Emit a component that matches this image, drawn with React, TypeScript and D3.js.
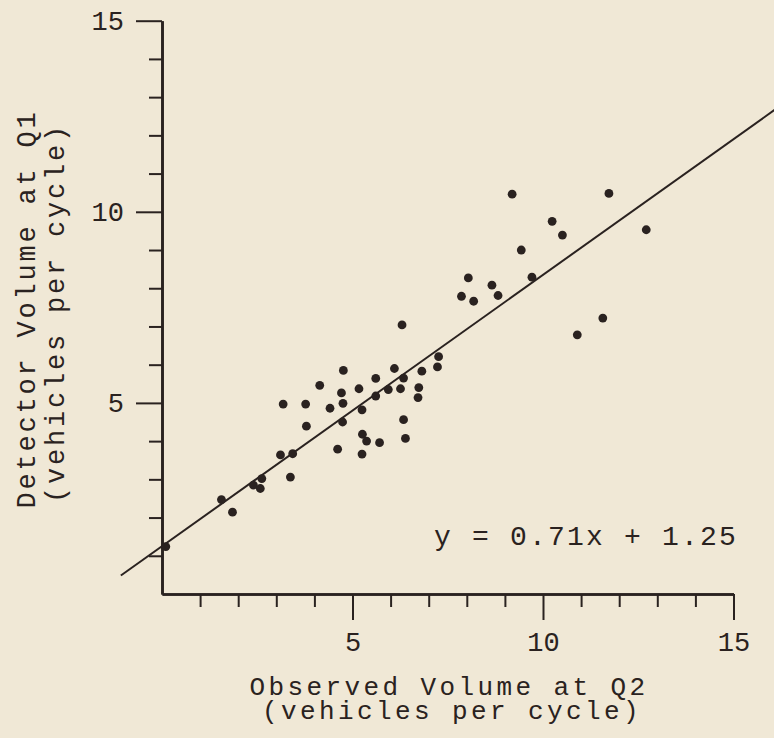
import React, { useEffect, useRef } from "react";
import * as d3 from "d3";

// Observed volume at Q2 (x) vs detector volume at Q1 (y), vehicles per cycle
const observedQ2 = [
  0.10, 1.56, 1.85, 2.40, 2.58, 2.62, 3.11, 3.43, 3.37, 3.18, 3.77, 3.79, 4.14,
  4.41, 4.61, 4.71, 4.76, 4.75, 4.74, 5.17, 5.25, 5.26, 5.37, 5.25, 5.61, 5.61,
  5.71, 5.94, 6.10, 6.26, 6.34, 6.30, 6.34, 6.39, 6.74, 6.72, 6.82, 7.23, 7.26,
  7.86, 8.04, 8.18, 8.66, 8.82, 9.19, 9.43, 9.71, 10.24, 10.51, 10.90, 11.57,
  11.73, 12.71,
];
const detectorQ1 = [
  1.24, 2.47, 2.14, 2.85, 2.76, 3.02, 3.64, 3.67, 3.06, 4.97, 4.97, 4.39, 5.46,
  4.86, 3.79, 5.26, 5.85, 4.99, 4.50, 5.37, 4.82, 4.18, 4.00, 3.66, 5.64, 5.18,
  3.96, 5.35, 5.90, 5.37, 5.65, 7.04, 4.56, 4.07, 5.40, 5.14, 5.83, 5.94, 6.21,
  7.79, 8.27, 7.66, 8.08, 7.81, 10.46, 9.00, 8.29, 9.75, 9.39, 6.78, 7.22,
  10.48, 9.53,
];

const slope = 0.71;
const intercept = 1.25;
const fitRange = [-1.08, 16.3];

const majorTicks = [5, 10, 15];
const minorTicks = d3.range(1, 15).filter(v => v % 5 !== 0);

const xTitle = ["Observed Volume at Q2", "(vehicles per cycle)"];
const yTitle = ["Detector Volume at Q1", "(vehicles per cycle)"];
const equation = "y = 0.71x + 1.25";

export default function App() {
  const svgRef = useRef(null);

  useEffect(() => {
    const W = 774, H = 738;
    const ink = "#2a2220";
    const font = "'Liberation Mono', 'Courier New', monospace";

    const svg = d3.select(svgRef.current)
      .html("")
      .attr("width", W)
      .attr("height", H);

    svg.append("rect").attr("width", W).attr("height", H).attr("fill", "#f0e8d6");

    const x = d3.scaleLinear().domain([0, 15]).range([162, 733.5]);
    const y = d3.scaleLinear().domain([0, 15]).range([594, 20.7]);

    // minor ticks (short)
    svg.append("g")
      .attr("transform", `translate(0,${y(0)})`)
      .call(d3.axisBottom(x).tickValues(minorTicks).tickSize(13).tickSizeOuter(0).tickFormat(() => ""));
    svg.append("g")
      .attr("transform", `translate(${x(0)},0)`)
      .call(d3.axisLeft(y).tickValues(minorTicks).tickSize(13).tickSizeOuter(0).tickFormat(() => ""));

    // major ticks with labels
    const xAxis = svg.append("g")
      .attr("transform", `translate(0,${y(0)})`)
      .call(d3.axisBottom(x).tickValues(majorTicks).tickSize(26).tickSizeOuter(0).tickPadding(12));
    const yAxis = svg.append("g")
      .attr("transform", `translate(${x(0)},0)`)
      .call(d3.axisLeft(y).tickValues(majorTicks).tickSize(26).tickSizeOuter(0).tickPadding(12));

    svg.selectAll(".domain").attr("stroke", ink).attr("stroke-width", 2.6);
    svg.selectAll(".tick line").attr("stroke", ink).attr("stroke-width", 2);
    [xAxis, yAxis].forEach(a =>
      a.selectAll("text")
        .attr("fill", ink)
        .style("font-family", font)
        .style("font-size", "27px")
    );

    // regression line
    const line = d3.line()
      .x(d => x(d))
      .y(d => y(slope * d + intercept));
    svg.append("path")
      .datum(fitRange)
      .attr("fill", "none")
      .attr("stroke", ink)
      .attr("stroke-width", 2)
      .attr("d", line);

    // points
    svg.append("g")
      .selectAll("circle")
      .data(observedQ2.map((v, i) => [v, detectorQ1[i]]))
      .enter()
      .append("circle")
      .attr("cx", d => x(d[0]))
      .attr("cy", d => y(d[1]))
      .attr("r", 4.4)
      .attr("fill", ink);

    const txt = (s, tx, ty, anchor, size, spacing, extra) => {
      const t = svg.append("text")
        .attr("x", tx)
        .attr("y", ty)
        .attr("text-anchor", anchor)
        .attr("fill", ink)
        .style("font-family", font)
        .style("font-size", `${size}px`)
        .style("letter-spacing", `${spacing}px`)
        .text(s);
      if (extra) t.attr("transform", extra);
      return t;
    };

    // equation
    txt(equation, 434, 545, "start", 28, 2.2);

    // x title
    txt(xTitle[0], 449, 695, "middle", 26, 3.4);
    txt(xTitle[1], 452, 719, "middle", 26, 3.4);

    // y title (rotated)
    txt(yTitle[0], -309, 35, "middle", 27, 2.8, "rotate(-90)");
    txt(yTitle[1], -313, 64, "middle", 27, 2.8, "rotate(-90)");
  }, []);

  return <svg ref={svgRef} style={{ position: "absolute", left: 0, top: 0, display: "block" }}></svg>;
}
